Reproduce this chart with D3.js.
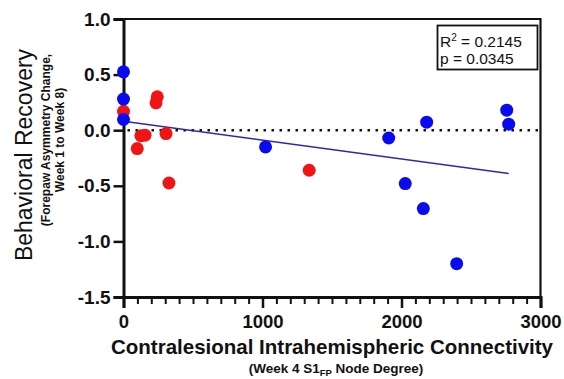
<!DOCTYPE html>
<html><head><meta charset="utf-8">
<script src="https://cdn.jsdelivr.net/npm/d3@7/dist/d3.min.js"></script>
<style>body{margin:0;background:#fff;} svg{display:block;font-family:"Liberation Sans",Arial,sans-serif;}</style>
</head><body><svg id="c" width="564" height="379"></svg>
<script>
const blueX = [0, 0, 0, 1022, 1908, 2181, 2027, 2157, 2397, 2757, 2771];
const blueY = [0.525, 0.28, 0.096, -0.15, -0.07, 0.072, -0.48, -0.705, -1.2, 0.18, 0.054];
const redX = [0, 243, 234, 125, 155, 306, 99, 327, 1336];
const redY = [0.17, 0.30, 0.246, -0.05, -0.045, -0.03, -0.165, -0.475, -0.36];
const fitX = [0, 2771];
const fitY = [0.08, -0.39];
const xTicks = [0, 1000, 2000, 3000];
const yTicks = [1.0, 0.5, 0.0, -0.5, -1.0, -1.5];
const statsText = ["0.2145", "0.0345"];

const svg = d3.select("#c");
const L = 123.5, R = 540.5, T = 19, B = 297;
const x = d3.scaleLinear().domain([0, 3000]).range([L, R]);
const y = d3.scaleLinear().domain([-1.5, 1.0]).range([B, T]);
const FF = "Liberation Sans, Arial, sans-serif";

// frame top/right
svg.append("path").attr("d", `M${L},${T}H${R}V${B}`).attr("fill","none").attr("stroke","#111").attr("stroke-width",2.2);

// zero dotted line
svg.append("line").attr("x1", x(0)+4).attr("x2", R).attr("y1", y(0)).attr("y2", y(0))
  .attr("stroke","#111").attr("stroke-width",2.5).attr("stroke-dasharray","2.5,5.5");

// axes
const yAxis = d3.axisLeft(y).tickValues(yTicks).tickSize(10).tickPadding(3);
const gy = svg.append("g").attr("transform",`translate(${L},0)`).call(yAxis);
gy.select(".domain").attr("stroke","#111").attr("stroke-width",3);
gy.selectAll(".tick line").attr("stroke","#111").attr("stroke-width",2.5);
gy.selectAll(".tick text").attr("font-size",19).attr("font-weight","bold").attr("fill","#111")
  .attr("font-family",FF).text(d => d3.format(".1f")(d).replace("−","-"));

const minor = d3.range(0, 3001, 100).filter(v => v % 1000 !== 0);
const gxm = svg.append("g").attr("transform",`translate(0,${B})`)
  .call(d3.axisBottom(x).tickValues(minor).tickSize(7).tickFormat(""));
gxm.select(".domain").remove();
gxm.selectAll(".tick line").attr("stroke","#111").attr("stroke-width",2);

const gx = svg.append("g").attr("transform",`translate(0,${B})`)
  .call(d3.axisBottom(x).tickValues(xTicks).tickSize(11).tickPadding(7).tickFormat(d3.format("d")));
gx.select(".domain").attr("stroke","#111").attr("stroke-width",3);
gx.selectAll(".tick line").attr("stroke","#111").attr("stroke-width",2.5);
gx.selectAll(".tick text").attr("font-size",18.5).attr("font-weight","bold").attr("fill","#111")
  .attr("font-family",FF);

// regression line
svg.append("line").attr("x1", x(fitX[0])).attr("x2", x(fitX[1])).attr("y1", y(fitY[0])).attr("y2", y(fitY[1]))
  .attr("stroke","#2a2aa8").attr("stroke-width",1.6);

// points
svg.append("g").selectAll("circle").data(redX.map((v,i)=>[v, redY[i]])).join("circle")
  .attr("cx", d=>x(d[0])).attr("cy", d=>y(d[1])).attr("r",6.5).attr("fill","#f01414");
svg.append("g").selectAll("circle").data(blueX.map((v,i)=>[v, blueY[i]])).join("circle")
  .attr("cx", d=>x(d[0])).attr("cy", d=>y(d[1])).attr("r",6.5).attr("fill","#0a0af0");

// stats box
svg.append("rect").attr("x",437.5).attr("y",25.5).attr("width",100).attr("height",44)
  .attr("fill","#fff").attr("stroke","#111").attr("stroke-width",1.8);
const t1 = svg.append("text").attr("x",440).attr("y",46.5).attr("font-size",15.5).attr("fill","#111");
t1.append("tspan").text("R");
t1.append("tspan").attr("dy",-6).attr("font-size",10).text("2");
t1.append("tspan").attr("dy",6).text(" = " + statsText[0]);
svg.append("text").attr("x",440).attr("y",63.5).attr("font-size",15.5).attr("fill","#111").text("p = " + statsText[1]);

// x titles
svg.append("text").attr("x",332).attr("y",354).attr("text-anchor","middle").attr("font-size",20.5)
  .attr("font-weight","bold").attr("fill","#111").text("Contralesional Intrahemispheric Connectivity");
const st = svg.append("text").attr("x",336).attr("y",372.5).attr("text-anchor","middle").attr("font-size",13.5)
  .attr("font-weight","bold").attr("fill","#111");
st.append("tspan").text("(Week 4 S1");
st.append("tspan").attr("dy",3).attr("font-size",9.5).text("FP");
st.append("tspan").attr("dy",-3).text(" Node Degree)");

// y titles
svg.append("text").attr("transform","translate(32,155) rotate(-90)").attr("text-anchor","middle")
  .attr("font-size",23).attr("fill","#111").text("Behavioral Recovery");
svg.append("text").attr("transform","translate(50,140) rotate(-90)").attr("text-anchor","middle")
  .attr("font-size",12).attr("font-weight","bold").attr("fill","#111").text("(Forepaw Asymmetry Change,");
svg.append("text").attr("transform","translate(63.5,140) rotate(-90)").attr("text-anchor","middle")
  .attr("font-size",12).attr("font-weight","bold").attr("fill","#111").text("Week 1 to Week 8)");
</script></body></html>
